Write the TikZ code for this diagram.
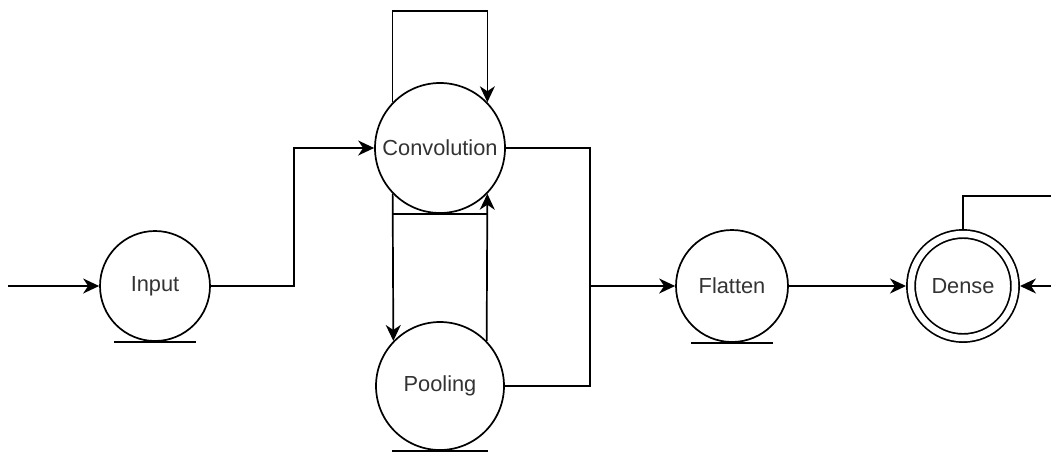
\documentclass[tikz,border=0pt]{standalone}
\usepackage{fontspec}
\setmainfont{Liberation Sans}
\usetikzlibrary{arrows.meta}

\begin{document}
\begin{tikzpicture}[x=1pt,y=-1pt,line width=1.7pt,
    layer/.style={circle,draw,inner sep=0pt,minimum size=110,text=black!80,
      font=\fontsize{21.8}{26}\selectfont},
    flow/.style={-{Stealth[length=16pt,width=15pt,inset=5pt]}}]
  \useasboundingbox (0,0) rectangle (1051,453);
  \node[layer] (input) at (155,286) {Input};
  \node[layer,minimum size=130] (conv) at (440,148) {Convolution};
  \node[layer,minimum size=128] (pool) at (440,386) {Pooling};
  \node[layer,minimum size=112] (flatten) at (732,286) {Flatten};
  \node[layer,minimum size=104,double,double distance=6.5pt,outer sep=5pt] (dense) at (963,286) {Dense};
  \coordinate (src) at (8,286);
  \coordinate (loop) at (440,11);
  \coordinate (join) at (590,286);
  \coordinate (out) at (1051,196);
  \coordinate (back) at (1051,286);
  %% underlines
  \foreach \n/\w in {input/41,conv/48,pool/48,flatten/41}
    \draw ([xshift=-\w]\n.south) -- ([xshift=\w]\n.south);
  \draw[flow] (src) -- (input);
  \draw[flow] (input.east) -- ++(83,0) |- (conv.west);
  \draw[flow] (conv.136) -- (conv.136 |- loop) -| (conv.44);
  \draw[flow] (conv.224) -- (pool.136);
  \draw[flow] (pool.44) -- (conv.316);
  \draw (conv.east) -| (join);
  \draw (pool.east) -| (join);
  \draw[flow] (join) -- (flatten);
  \draw[flow] (flatten) -- (dense);
  \draw (dense.north) |- (out);
  \draw[flow] (back) -- (dense);
\end{tikzpicture}
\end{document}
